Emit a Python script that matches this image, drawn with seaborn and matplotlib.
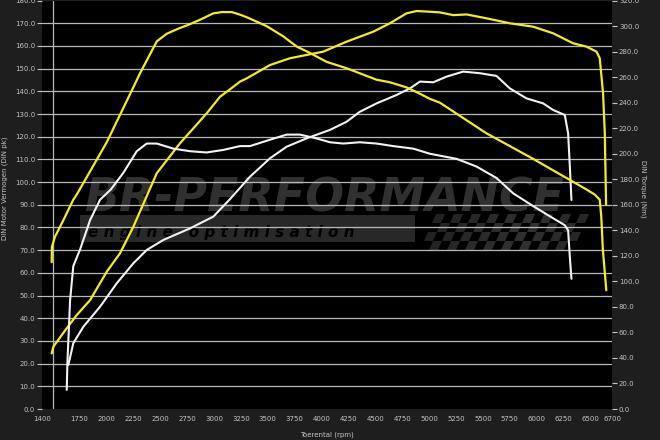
import numpy as np
import pandas as pd
import seaborn as sns
import matplotlib.pyplot as plt
from matplotlib.patches import Rectangle, Polygon

# tuned engine (yellow): power in pk (left axis), torque in Nm (right axis)
pwr_tuned_rpm = [1490, 1506, 1630, 1723, 1847, 2002, 2125, 2249, 2358, 2467,
                 2683, 2931, 3055, 3148, 3241, 3303, 3520, 3706, 4015, 4232,
                 4480, 4635, 4790, 4883, 5007, 5100, 5224, 5347, 5533, 5750,
                 5967, 6152, 6338, 6463, 6556, 6586, 6617, 6633, 6645]
pwr_tuned = [24.5, 27.5, 35.6, 41.4, 48.0, 60.5, 68.6, 80.3, 92.1, 103.9,
             117.1, 130.3, 137.6, 140.9, 144.3, 145.7, 151.6, 154.6, 157.5, 161.9,
             166.3, 170.0, 174.4, 175.4, 175.1, 174.8, 173.6, 173.9, 172.2, 170.0,
             168.5, 165.6, 161.2, 159.7, 157.5, 154.6, 139.1, 121.5, 90.0]

trq_tuned_rpm = [1490, 1492, 1521, 1599, 1691, 1723, 2002, 2249, 2311, 2467,
                 2559, 2667, 2760, 2869, 2993, 3071, 3164, 3241, 3303, 3489,
                 3643, 3768, 3891, 4046, 4232, 4387, 4511, 4635, 4790, 4914,
                 5007, 5100, 5316, 5533, 5750, 5967, 6152, 6277, 6463, 6540,
                 6586, 6600, 6615, 6647]
trq_tuned = [115, 127, 135, 148, 164, 168, 209, 252, 263, 288,
             294, 298, 301, 305, 310, 311, 311, 309, 307, 300,
             292, 284, 279, 272, 267, 262, 258, 256, 252, 247,
             243, 240, 228, 216, 206, 196, 187, 181, 172, 168,
             164, 151, 125, 93]

# stock engine (white)
pwr_stock_rpm = [1645, 1691, 1785, 1940, 2095, 2249, 2374, 2528, 2776, 2993,
                 3148, 3334, 3520, 3675, 3861, 4077, 4232, 4355, 4511, 4697,
                 4821, 4914, 5038, 5162, 5316, 5471, 5626, 5750, 5905, 6060,
                 6152, 6261, 6292, 6308, 6323]
pwr_stock = [19.4, 29.0, 36.3, 45.1, 55.4, 64.2, 70.1, 74.5, 79.6, 84.8,
             92.5, 102.4, 110.5, 115.6, 119.3, 123.0, 126.6, 131.0, 134.7, 138.4,
             141.3, 144.3, 144.0, 146.5, 148.7, 148.0, 146.8, 141.3, 136.9, 134.7,
             131.8, 129.6, 121.5, 106.8, 92.1]

trq_stock_rpm = [1630, 1636, 1661, 1691, 1754, 1847, 1940, 2040, 2156, 2281,
                 2374, 2467, 2621, 2776, 2931, 3086, 3241, 3334, 3520, 3675,
                 3798, 3953, 4077, 4201, 4355, 4511, 4666, 4852, 5007, 5255,
                 5440, 5626, 5781, 5967, 6122, 6261, 6292, 6308, 6323]
trq_stock = [15, 36, 85, 112, 125, 148, 164, 172, 185, 202,
             208, 208, 204, 202, 201, 203, 206, 206, 211, 215,
             215, 212, 209, 208, 209, 208, 206, 204, 200, 196,
             190, 181, 169, 159, 151, 144, 140, 119, 102]

x_ticks = [1400, 1750, 2000, 2250, 2500, 2750, 3000, 3250, 3500, 3750, 4000,
           4250, 4500, 4750, 5000, 5250, 5500, 5750, 6000, 6250, 6500, 6700]
x_grid = list(range(1500, 6501, 250))
pk_ticks = list(range(0, 181, 10))
nm_ticks = list(range(0, 321, 20))

YELLOW = "#f2ee1c"
WHITE = "#f2f2f2"
TXT = "#c4c4c4"
GRID = "#b8b8b8"

sns.set_style("dark")
plt.rcParams['font.family'] = ['DejaVu Sans']

fig = plt.figure(figsize=(6.6, 4.4), dpi=100, facecolor="#1e1e1e")
ax = fig.add_axes([42 / 660, 31 / 440, 570 / 660, 408.4 / 440])
ax.set_facecolor("black")
ax2 = ax.twinx()

# watermark logo (drawn under the grid)
def fp(x, y):
    return (x / 660, 1 - y / 440)

ax.add_patch(Rectangle(fp(80, 242), 335 / 660, 27 / 440, transform=fig.transFigure,
                       color="#282828", zorder=0.2, lw=0))
ax.text(*fp(84, 211), "BR-PERFORMANCE", transform=fig.transFigure, fontsize=33,
        fontweight="heavy", fontstyle="italic", color="#303030", zorder=0.3)
ax.text(*fp(88, 237), "e n g i n e   o p t i m i s a t i o n", transform=fig.transFigure,
        fontsize=11, fontweight="bold", fontstyle="italic", color="black", zorder=0.3)
cell = 9
for r in range(4):
    for c in range(17):
        if (r + c) % 2 == 0:
            continue
        x0 = 420 + c * cell + r * 4
        y0 = 250 - r * cell
        shade = 0.19 - 0.006 * abs(c - 10)
        pts = [fp(x0, y0), fp(x0 + cell, y0), fp(x0 + cell + 4, y0 - cell), fp(x0 + 4, y0 - cell)]
        ax.add_patch(Polygon(pts, closed=True, transform=fig.transFigure,
                             color=(shade, shade, shade), zorder=0.2, lw=0))

# curves
df_pt = pd.DataFrame({"rpm": pwr_tuned_rpm, "val": pwr_tuned})
df_ps = pd.DataFrame({"rpm": pwr_stock_rpm, "val": pwr_stock})
df_tt = pd.DataFrame({"rpm": trq_tuned_rpm, "val": trq_tuned})
df_ts = pd.DataFrame({"rpm": trq_stock_rpm, "val": trq_stock})

sns.lineplot(data=df_ps, x="rpm", y="val", ax=ax, color=WHITE, lw=1.5,
             estimator=None, sort=False, legend=False)
sns.lineplot(data=df_pt, x="rpm", y="val", ax=ax, color=YELLOW, lw=1.6,
             estimator=None, sort=False, legend=False)
sns.lineplot(data=df_ts, x="rpm", y="val", ax=ax2, color=WHITE, lw=1.5,
             estimator=None, sort=False, legend=False)
sns.lineplot(data=df_tt, x="rpm", y="val", ax=ax2, color=YELLOW, lw=1.6,
             estimator=None, sort=False, legend=False)

ax.set_xlim(1400, 6700)
ax.set_ylim(0, 180)
ax2.set_ylim(0, 320)

ax.set_xticks(x_ticks)
ax.set_xticklabels([str(v) for v in x_ticks])
ax.set_xticks(x_grid, minor=True)
ax.set_yticks(pk_ticks)
ax.set_yticklabels([f"{v:.1f}" for v in pk_ticks])
ax2.set_yticks(nm_ticks)
ax2.set_yticklabels([f"{v:.1f}" for v in nm_ticks])

ax.set_axisbelow(True)
ax.grid(False)
ax2.grid(False)
ax.grid(True, which="minor", axis="x", color=GRID, lw=0.9)
ax.grid(True, which="major", axis="y", color=GRID, lw=0.9)
gl = ax.yaxis.get_gridlines()
gl[0].set_visible(False)
gl[-1].set_visible(False)

for a in (ax, ax2):
    for s in a.spines.values():
        s.set_visible(False)
    a.tick_params(axis="both", which="major", colors=TXT, labelsize=5, length=3.5,
                  width=0.8, direction="out", pad=1.5)
    a.tick_params(axis="both", which="minor", length=0)

ax.set_xlabel("Toerental (rpm)", color=TXT, fontsize=5)
ax.set_ylabel("DIN Motor Vermogen (DIN pk)", color=TXT, fontsize=5)
ax2.set_ylabel("DIN Torque (Nm)", color=TXT, fontsize=5, rotation=270)
ax.xaxis.set_label_coords(0.5, -0.056)
ax.yaxis.set_label_coords(-0.06, 0.54)
ax2.yaxis.set_label_coords(1.06, 0.54)

fig.savefig("out.png", dpi=100, facecolor=fig.get_facecolor())
